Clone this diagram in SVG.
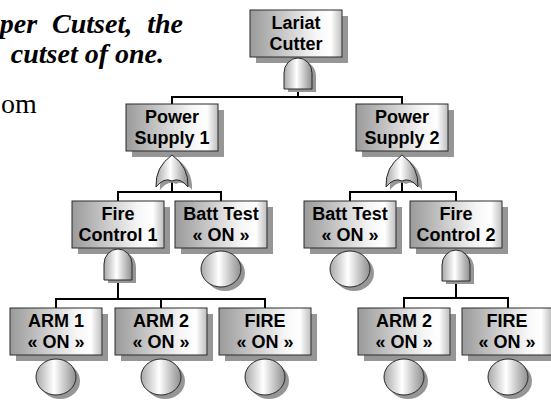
<svg xmlns="http://www.w3.org/2000/svg" width="551" height="400" viewBox="0 0 551 400">
  <defs>
    <linearGradient id="boxFill" x1="0" y1="0" x2="1" y2="0">
      <stop offset="0" stop-color="#9a9a9a"/>
      <stop offset="0.72" stop-color="#f6f6f6"/>
      <stop offset="0.88" stop-color="#ffffff"/>
      <stop offset="1" stop-color="#bdbdbd"/>
    </linearGradient>
    <linearGradient id="roundFill" x1="0" y1="0" x2="1" y2="0">
      <stop offset="0" stop-color="#a8a8a8"/>
      <stop offset="0.45" stop-color="#ffffff"/>
      <stop offset="1" stop-color="#8e8e8e"/>
    </linearGradient>
    <!-- reusable shapes -->
    <path id="andGate" d="M-14,31 V15 A14,15 0 0 1 14,15 V31 Z"/>
    <path id="orGate" d="M-16,32 Q-17,12 0,0 Q17,12 16,32 Q8,22 0,26 Q-8,22 -16,32 Z"/>
  </defs>
  <style>
    .shadow { fill: #969696; }
    .box { fill: url(#boxFill); stroke: #2a2a2a; stroke-width: 1; }
    .gate { fill: url(#roundFill); stroke: #2a2a2a; stroke-width: 1; }
    .label { font-family: "Liberation Sans", Arial, sans-serif; font-weight: bold; font-size: 18px; text-anchor: middle; fill: #000; }
    .wire { fill: none; stroke: #000; stroke-width: 2; }
    .note { font-family: "Liberation Serif", "Times New Roman", serif; font-size: 28px; fill: #000; }
    .noteBI { font-weight: bold; font-style: italic; }
  </style>

  <!-- side text -->
  <g id="caption">
    <text class="note noteBI" x="183" y="33" text-anchor="end" word-spacing="8">per Cutset, the</text>
    <text class="note noteBI" x="164" y="63" text-anchor="end">cutset of one.</text>
    <text class="note" x="1" y="113" font-size="27">om</text>
  </g>

  <!-- connectors -->
  <g id="connectors">
    <path class="wire" d="M298,89 V97 M172,104 V97 H402 V104"/>
    <path class="wire" d="M172,181 V192 M118,201 V192 H221 V201"/>
    <path class="wire" d="M402,181 V192 M350,201 V192 H456 V201"/>
    <path class="wire" d="M118,280 V299 M56,308 V299 H265 V308 M161,299 V308"/>
    <path class="wire" d="M456,281 V298 M404,308 V298 H508 V308"/>
  </g>

  <!-- top event -->
  <g id="lariat-cutter">
    <rect class="shadow" x="256" y="16" width="92" height="47"/>
    <rect class="box" x="250" y="10" width="92" height="47"/>
    <text class="label" x="296" y="29">Lariat</text>
    <text class="label" x="296" y="50">Cutter</text>
    <use href="#andGate" x="302" y="61" class="shadow"/>
    <use href="#andGate" x="298" y="58" class="gate"/>
  </g>

  <g id="power-supply-1">
    <rect class="shadow" x="132" y="110" width="92" height="47"/>
    <rect class="box" x="126" y="104" width="92" height="47"/>
    <text class="label" x="172" y="123">Power</text>
    <text class="label" x="172" y="144">Supply 1</text>
    <use href="#orGate" x="176" y="158" class="shadow"/>
    <use href="#orGate" x="172" y="155" class="gate"/>
  </g>

  <g id="power-supply-2">
    <rect class="shadow" x="362" y="110" width="92" height="47"/>
    <rect class="box" x="356" y="104" width="92" height="47"/>
    <text class="label" x="402" y="123">Power</text>
    <text class="label" x="402" y="144">Supply 2</text>
    <use href="#orGate" x="406" y="158" class="shadow"/>
    <use href="#orGate" x="402" y="155" class="gate"/>
  </g>

  <g id="fire-control-1">
    <rect class="shadow" x="78" y="207" width="92" height="47"/>
    <rect class="box" x="72" y="201" width="92" height="47"/>
    <text class="label" x="118" y="220">Fire</text>
    <text class="label" x="118" y="241">Control 1</text>
    <use href="#andGate" x="122" y="252" class="shadow"/>
    <use href="#andGate" x="118" y="249" class="gate"/>
  </g>

  <g id="batt-test-1">
    <rect class="shadow" x="181" y="207" width="92" height="47"/>
    <rect class="box" x="175" y="201" width="92" height="47"/>
    <text class="label" x="221" y="220">Batt Test</text>
    <text class="label" x="221" y="241">« ON »</text>
    <ellipse class="shadow" cx="225" cy="273" rx="20" ry="18"/>
    <ellipse class="gate" cx="221" cy="269" rx="20" ry="18"/>
  </g>

  <g id="batt-test-2">
    <rect class="shadow" x="310" y="207" width="92" height="47"/>
    <rect class="box" x="304" y="201" width="92" height="47"/>
    <text class="label" x="350" y="220">Batt Test</text>
    <text class="label" x="350" y="241">« ON »</text>
    <ellipse class="shadow" cx="354" cy="273" rx="20" ry="18"/>
    <ellipse class="gate" cx="350" cy="269" rx="20" ry="18"/>
  </g>

  <g id="fire-control-2">
    <rect class="shadow" x="416" y="207" width="92" height="47"/>
    <rect class="box" x="410" y="201" width="92" height="47"/>
    <text class="label" x="456" y="220">Fire</text>
    <text class="label" x="456" y="241">Control 2</text>
    <use href="#andGate" x="460" y="253" class="shadow"/>
    <use href="#andGate" x="456" y="250" class="gate"/>
  </g>

  <g id="arm-1">
    <rect class="shadow" x="16" y="314" width="92" height="47"/>
    <rect class="box" x="10" y="308" width="92" height="47"/>
    <text class="label" x="56" y="327">ARM 1</text>
    <text class="label" x="56" y="348">« ON »</text>
    <ellipse class="shadow" cx="60" cy="381" rx="20" ry="18"/>
    <ellipse class="gate" cx="56" cy="377" rx="20" ry="18"/>
  </g>

  <g id="arm-2-left">
    <rect class="shadow" x="121" y="314" width="92" height="47"/>
    <rect class="box" x="115" y="308" width="92" height="47"/>
    <text class="label" x="161" y="327">ARM 2</text>
    <text class="label" x="161" y="348">« ON »</text>
    <ellipse class="shadow" cx="165" cy="381" rx="20" ry="18"/>
    <ellipse class="gate" cx="161" cy="377" rx="20" ry="18"/>
  </g>

  <g id="fire-left">
    <rect class="shadow" x="225" y="314" width="92" height="47"/>
    <rect class="box" x="219" y="308" width="92" height="47"/>
    <text class="label" x="265" y="327">FIRE</text>
    <text class="label" x="265" y="348">« ON »</text>
    <ellipse class="shadow" cx="269" cy="381" rx="20" ry="18"/>
    <ellipse class="gate" cx="265" cy="377" rx="20" ry="18"/>
  </g>

  <g id="arm-2-right">
    <rect class="shadow" x="364" y="314" width="92" height="47"/>
    <rect class="box" x="358" y="308" width="92" height="47"/>
    <text class="label" x="404" y="327">ARM 2</text>
    <text class="label" x="404" y="348">« ON »</text>
    <ellipse class="shadow" cx="408" cy="381" rx="20" ry="18"/>
    <ellipse class="gate" cx="404" cy="377" rx="20" ry="18"/>
  </g>

  <g id="fire-right">
    <rect class="shadow" x="468" y="314" width="92" height="47"/>
    <rect class="box" x="462" y="308" width="90" height="47"/>
    <text class="label" x="507" y="327">FIRE</text>
    <text class="label" x="507" y="348">« ON »</text>
    <ellipse class="shadow" cx="512" cy="381" rx="20" ry="18"/>
    <ellipse class="gate" cx="508" cy="377" rx="20" ry="18"/>
  </g>
</svg>
